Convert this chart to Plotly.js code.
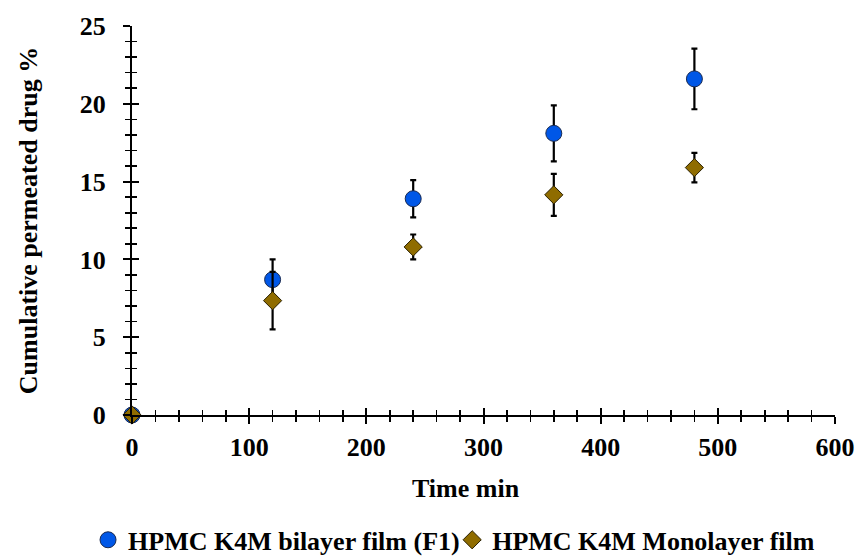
<!DOCTYPE html>
<html>
<head>
<meta charset="utf-8">
<script src="https://cdn.plot.ly/plotly-3.0.1.min.js"></script>
<style>html,body{margin:0;padding:0;background:#fff;}#chart{width:858px;height:556px;}</style>
</head>
<body>
<div id="chart"></div>
<script>
const timeMin = [0, 120, 240, 360, 480];
const bilayerValues = [0, 8.7, 13.9, 18.1, 21.6];
const bilayerErrors = [0, 1.3, 1.2, 1.8, 1.95];
const monolayerValues = [0, 7.35, 10.8, 14.15, 15.9];
const monolayerErrors = [0, 1.85, 0.8, 1.35, 0.95];
const xTickVals = [0, 100, 200, 300, 400, 500, 600];
const yTickVals = [0, 5, 10, 15, 20, 25];

const fam = '"Liberation Serif", "Times New Roman", serif';
const bold26 = {family: fam, size: 26, color: '#000', weight: 'bold'};

const traces = [
  {
    x: timeMin, y: bilayerValues, type: 'scatter', mode: 'markers',
    name: 'HPMC K4M bilayer film (F1)', legend: 'legend',
    marker: {symbol: 'circle', size: 16, color: '#0057e7', line: {color: '#1a2a50', width: 1}},
    error_y: {type: 'data', array: bilayerErrors, visible: true, color: '#000', thickness: 2.2, width: 3},
    cliponaxis: false
  },
  {
    x: timeMin, y: monolayerValues, type: 'scatter', mode: 'markers',
    name: 'HPMC K4M Monolayer film', legend: 'legend2',
    marker: {symbol: 'diamond', size: 14, color: '#8f6c00', line: {color: '#2a2000', width: 1}},
    error_y: {type: 'data', array: monolayerErrors, visible: true, color: '#000', thickness: 2.2, width: 3},
    cliponaxis: false
  }
];

const baseX = {
  range: [0, 600], showgrid: false, zeroline: false,
  showline: true, linecolor: '#000', linewidth: 2,
  tickvals: xTickVals, ticklen: 7, tickwidth: 2, tickcolor: '#000',
  minor: {dtick: 20, ticklen: 5, tickwidth: 1.6, tickcolor: '#000'}
};
const baseY = {
  range: [0, 25], showgrid: false, zeroline: false,
  showline: true, linecolor: '#000', linewidth: 2,
  tickvals: yTickVals, ticklen: 7, tickwidth: 2, tickcolor: '#000',
  minor: {dtick: 1, ticklen: 5, tickwidth: 1.6, tickcolor: '#000'}
};

const legendBase = {
  orientation: 'h', xref: 'container', yref: 'container',
  xanchor: 'left', y: 0.029, yanchor: 'middle',
  font: bold26, itemwidth: 30, bgcolor: 'rgba(0,0,0,0)', borderwidth: 0
};

const layout = {
  width: 858, height: 556,
  margin: {l: 132, r: 23, t: 26, b: 141, autoexpand: false},
  paper_bgcolor: '#fff', plot_bgcolor: '#fff',
  font: {family: fam, color: '#000'},
  showlegend: true,
  legend: Object.assign({}, legendBase, {x: 0.1026}),
  legend2: Object.assign({}, legendBase, {x: 0.527}),
  xaxis: Object.assign({}, baseX, {
    ticks: 'outside',
    minor: Object.assign({}, baseX.minor, {ticks: 'outside'}),
    tickfont: bold26,
    ticklabelstandoff: 1
  }),
  xaxis2: Object.assign({}, baseX, {
    overlaying: 'x', matches: 'x', ticks: 'inside', showticklabels: false,
    minor: Object.assign({}, baseX.minor, {ticks: 'inside'})
  }),
  yaxis: Object.assign({}, baseY, {
    ticks: 'outside',
    minor: Object.assign({}, baseY.minor, {ticks: 'outside'}),
    tickfont: bold26,
    ticklabelstandoff: 12,
    title: {text: 'Cumulative permeated drug %', font: bold26, standoff: 35}
  }),
  yaxis2: Object.assign({}, baseY, {
    overlaying: 'y', matches: 'y', ticks: 'inside', showticklabels: false,
    minor: Object.assign({}, baseY.minor, {ticks: 'inside'})
  }),
  annotations: [{
    text: 'Time min', xref: 'paper', yref: 'paper', x: 0.475, y: -0.188,
    xanchor: 'center', yanchor: 'middle', showarrow: false,
    font: bold26
  }]
};

// invisible helper trace to activate the mirrored tick axes
traces.push({x: [0], y: [0], xaxis: 'x2', yaxis: 'y2', type: 'scatter', mode: 'markers',
  marker: {opacity: 0}, showlegend: false, hoverinfo: 'skip'});

Plotly.newPlot('chart', traces, layout, {staticPlot: true});
</script>
</body>
</html>
